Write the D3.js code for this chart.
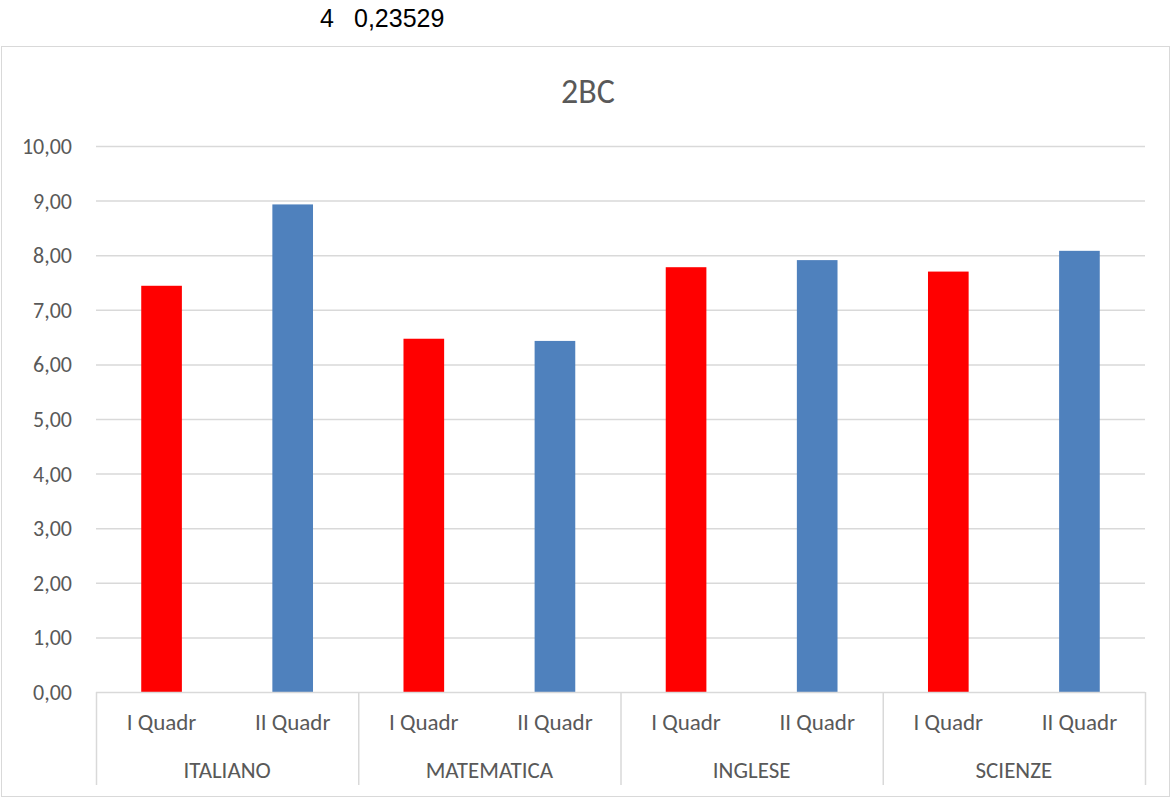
<!DOCTYPE html>
<html>
<head>
<meta charset="utf-8">
<script src="https://cdn.jsdelivr.net/npm/d3@7"></script>
<style>
  body { margin: 0; background: #fff; }
  svg { display: block; }
</style>
</head>
<body>
<div id="vis"></div>
<script>
const subjects = ['ITALIANO', 'MATEMATICA', 'INGLESE', 'SCIENZE'];
const periods = ['I Quadr', 'II Quadr'];
const quadr1 = [7.44, 6.47, 7.78, 7.70];
const quadr2 = [8.93, 6.43, 7.91, 8.08];
const yTicks = [0, 1, 2, 3, 4, 5, 6, 7, 8, 9, 10];
const chartTitle = '2BC';
const topNote = ['4', '0,23529'];

const W = 1173, H = 799;
const MARGINS = {left: 96, right: 28, top: 146, bottom: 107};
const FONT = 'Carlito, Lato, sans-serif';

const svg = d3.select('#vis').append('svg')
  .attr('width', W).attr('height', H);

// note above the chart (cells of the sheet)
svg.append('text').attr('x', 320).attr('y', 27)
  .attr('font-family', 'Liberation Sans, Arial, sans-serif').attr('font-size', 25)
  .attr('fill', '#000').text(topNote[0]);
svg.append('text').attr('x', 354).attr('y', 27)
  .attr('font-family', 'Liberation Sans, Arial, sans-serif').attr('font-size', 25)
  .attr('fill', '#000').text(topNote[1]);

// chart area border
svg.append('rect').attr('x', 1.5).attr('y', 46.5)
  .attr('width', 1168).attr('height', 750)
  .attr('fill', '#fff').attr('stroke', '#d9d9d9');

svg.append('text').attr('x', 588).attr('y', 103)
  .attr('text-anchor', 'middle').attr('font-family', FONT)
  .attr('font-size', 34).attr('fill', '#595959').text(chartTitle);

const plotW = W - MARGINS.left - MARGINS.right;
const plotH = H - MARGINS.top - MARGINS.bottom;
const g = svg.append('g').attr('transform', 'translate(' + MARGINS.left + ',' + MARGINS.top + ')');

const y = d3.scaleLinear().domain([0, 10]).range([plotH, 0]);
const x0 = d3.scaleBand().domain(subjects).range([0, plotW]);
const x1 = d3.scaleBand().domain(periods).range([0, x0.bandwidth()]).paddingInner(0.69).paddingOuter(0.345);

// gridlines
g.append('g').selectAll('line').data(yTicks.slice(1)).join('line')
  .attr('x1', 0).attr('x2', plotW)
  .attr('y1', d => y(d) + 0.5).attr('y2', d => y(d) + 0.5)
  .attr('stroke', '#d9d9d9').attr('stroke-width', 1.5);

// y labels
g.append('g').selectAll('text').data(yTicks).join('text')
  .attr('x', -24).attr('y', d => y(d)).attr('dy', '0.36em')
  .attr('text-anchor', 'end').attr('font-family', FONT)
  .attr('font-size', 22).attr('fill', '#595959')
  .text(d => d3.format('.2f')(d).replace('.', ','));

const rows = [];
subjects.forEach((s, i) => {
  rows.push({subject: s, period: periods[0], value: quadr1[i], color: '#ff0000'});
  rows.push({subject: s, period: periods[1], value: quadr2[i], color: '#4f81bd'});
});

g.append('g').selectAll('rect').data(rows).join('rect')
  .attr('x', d => x0(d.subject) + x1(d.period))
  .attr('width', x1.bandwidth())
  .attr('y', d => y(d.value))
  .attr('height', d => plotH - y(d.value))
  .attr('fill', d => d.color);

// category axis
const axis = g.append('g').attr('transform', 'translate(0,' + plotH + ')');
axis.append('line').attr('x1', 0).attr('x2', plotW).attr('y1', 0.5).attr('y2', 0.5)
  .attr('stroke', '#d9d9d9').attr('stroke-width', 1.5);
axis.selectAll('.sep').data(subjects.concat(['end'])).join('line')
  .attr('class', 'sep')
  .attr('x1', (d, i) => i * x0.bandwidth() + 0.5).attr('x2', (d, i) => i * x0.bandwidth() + 0.5)
  .attr('y1', 0).attr('y2', 93)
  .attr('stroke', '#d9d9d9').attr('stroke-width', 1.5);

axis.selectAll('.per').data(rows).join('text')
  .attr('class', 'per')
  .attr('x', d => x0(d.subject) + x1(d.period) + x1.bandwidth() / 2)
  .attr('y', 38).attr('text-anchor', 'middle')
  .attr('font-family', FONT).attr('font-size', 23).attr('fill', '#595959')
  .text(d => d.period);

axis.selectAll('.cat').data(subjects).join('text')
  .attr('class', 'cat')
  .attr('x', d => x0(d) + x0.bandwidth() / 2)
  .attr('y', 86).attr('text-anchor', 'middle')
  .attr('font-family', FONT).attr('font-size', 23).attr('fill', '#595959')
  .text(d => d);
</script>
</body>
</html>
